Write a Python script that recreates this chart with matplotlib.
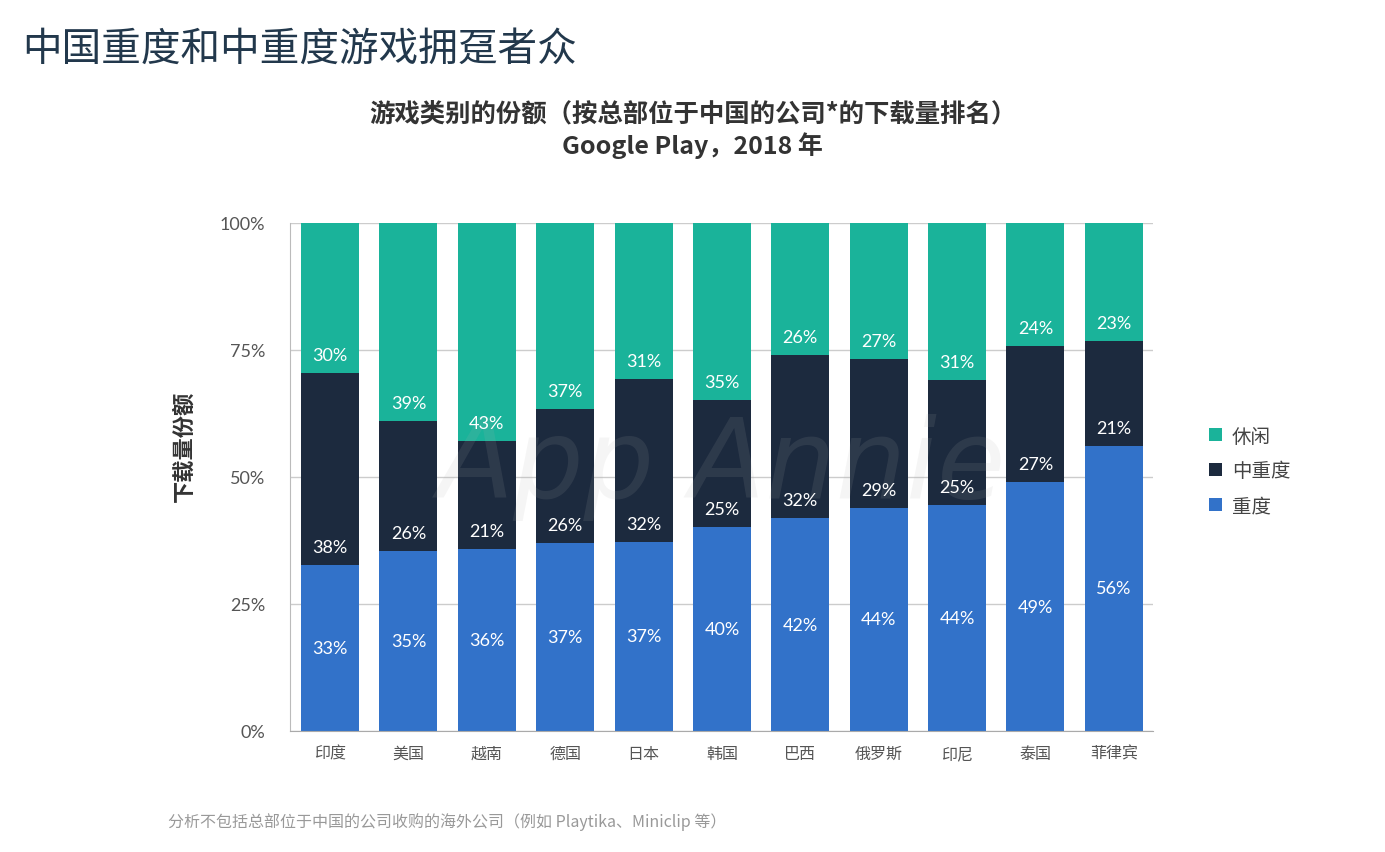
import matplotlib
matplotlib.use("Agg")
import matplotlib.pyplot as plt
import numpy as np

plt.rcParams['font.family'] = ['Noto Sans CJK SC', 'DejaVu Sans']

# data (share of downloads, %)
countries = ["印度", "美国", "越南", "德国", "日本", "韩国", "巴西", "俄罗斯", "印尼", "泰国", "菲律宾"]
heavy = [32.7, 35.4, 35.8, 37.0, 37.2, 40.2, 41.9, 43.9, 44.5, 49.0, 56.1]
midheavy = [37.8, 25.6, 21.3, 26.4, 32.1, 25.0, 32.1, 29.4, 24.6, 26.8, 20.7]
casual = [29.5, 39.0, 42.9, 36.6, 30.7, 34.8, 26.0, 26.7, 30.9, 24.2, 23.2]
series_names = ["重度", "中重度", "休闲"]
yticks = [0, 25, 50, 75, 100]

c_heavy = "#3272c9"
c_mid = "#1c2a3e"
c_casual = "#1ab39a"

num_font = ['Lato', 'Noto Sans CJK SC']

#define figure
fig = plt.figure(figsize=(13.85, 8.53), dpi=100)
ax = fig.add_axes([0.2094, 0.1419, 0.6231, 0.5955])

x = np.arange(len(countries))
heavy = np.array(heavy)
midheavy = np.array(midheavy)
casual = np.array(casual)

ax.bar(x, heavy, width=0.74, color=c_heavy, label=series_names[0], zorder=2)
ax.bar(x, midheavy, width=0.74, bottom=heavy, color=c_mid, label=series_names[1], zorder=2)
ax.bar(x, casual, width=0.74, bottom=heavy + midheavy, color=c_casual, label=series_names[2], zorder=2)

#watermark (faint)
ax.text(5, 52, "App Annie", ha="center", va="center", fontsize=80, style="italic",
        color="#b0b0b0", alpha=0.12, family="DejaVu Sans", zorder=3)

#bar labels
for i in range(len(countries)):
    ax.text(x[i], heavy[i] / 2, "%d%%" % round(heavy[i]), ha="center", va="center",
            color="white", fontsize=13, family=num_font, zorder=4)
    ax.text(x[i], heavy[i] + 3.5, "%d%%" % round(midheavy[i]), ha="center", va="center",
            color="white", fontsize=13, family=num_font, zorder=4)
    ax.text(x[i], heavy[i] + midheavy[i] + 3.5, "%d%%" % round(casual[i]), ha="center", va="center",
            color="white", fontsize=13, family=num_font, zorder=4)

ax.set_xlim(-0.51, 10.5)
ax.set_ylim(0, 100)
ax.set_yticks(yticks)
ax.set_yticklabels(["%d%%" % t for t in yticks], family=num_font, fontsize=13, color="#555555")
ax.set_xticks(x)
ax.set_xticklabels(countries, fontsize=11.5, color="#555555")
ax.tick_params(axis="both", length=0, pad=10)
ax.tick_params(axis="y", pad=18)

ax.grid(True, axis="y", color="#cccccc", lw=1, zorder=0)
ax.set_axisbelow(True)
for s in ["top", "right"]:
    ax.spines[s].set_visible(False)
ax.spines["left"].set_color("#bbbbbb")
ax.spines["bottom"].set_color("#aaaaaa")

ax.set_ylabel("下载量份额", fontsize=16, fontweight="bold", color="#333333")
ax.yaxis.set_label_coords(-0.11, 0.563)

#legend
handles, labels = ax.get_legend_handles_labels()
ax.legend(handles[::-1], labels[::-1], loc="center left", bbox_to_anchor=(1.045, 0.512),
          frameon=False, fontsize=14, handlelength=0.65, handleheight=0.65,
          labelspacing=0.7, handletextpad=0.5, labelcolor="#444444")

#titles
fig.text(0.016, 0.942, "中国重度和中重度游戏拥趸者众", fontsize=28.5, color="#22384c",
         va="center", ha="left")
fig.text(0.5, 0.866, "游戏类别的份额（按总部位于中国的公司*的下载量排名）", fontsize=18.3,
         fontweight="bold", color="#333333", ha="center", va="center")
fig.text(0.5, 0.829, "Google Play，2018 年", fontsize=18, fontweight="bold",
         color="#333333", ha="center", va="center")
fig.text(0.121, 0.036, "分析不包括总部位于中国的公司收购的海外公司（例如 Playtika、Miniclip 等）",
         fontsize=11.5, color="#999999", ha="left", va="center")

plt.savefig("out.png", dpi=100)
